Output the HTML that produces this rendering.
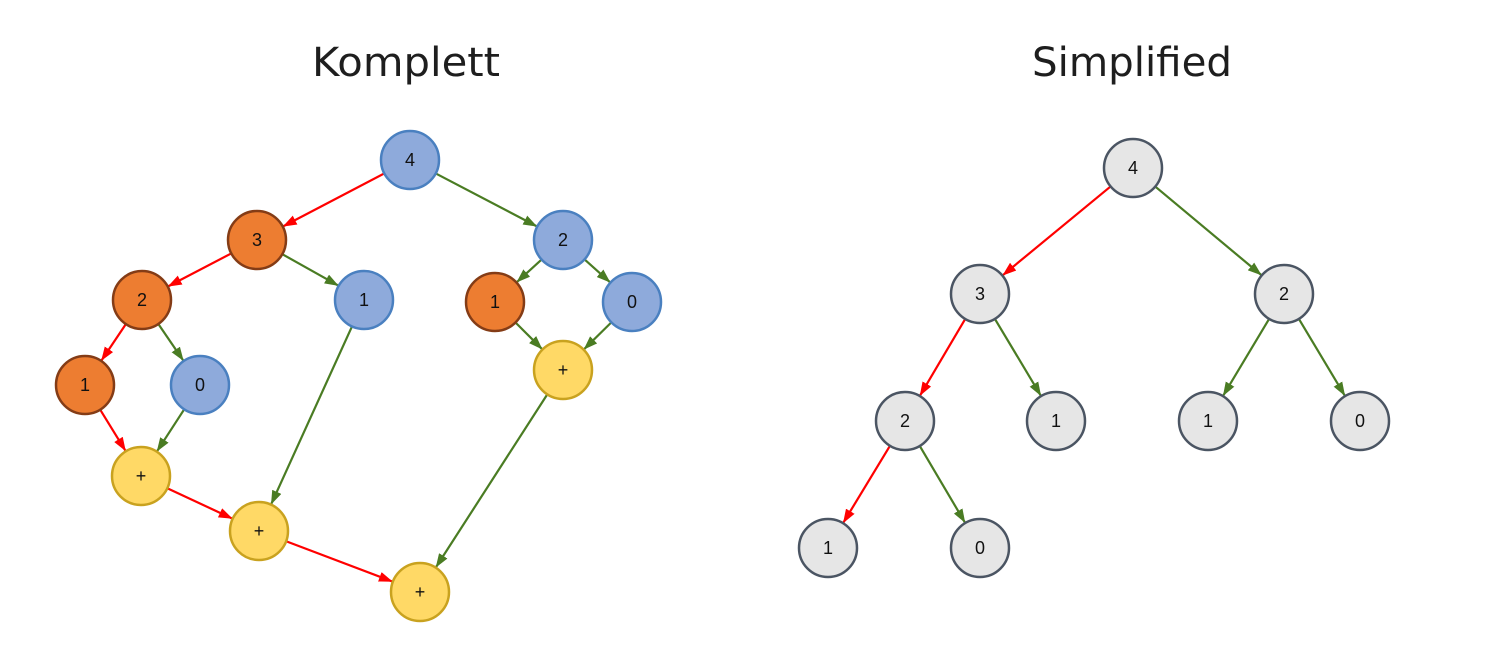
<!DOCTYPE html>
<html><head><meta charset="utf-8"><style>
html,body{margin:0;padding:0;background:#fff;}
svg{display:block}
text{font-family:"Liberation Sans","DejaVu Sans",sans-serif;}
</style></head><body>
<svg id="s" width="1492" height="649" viewBox="0 0 1492 649" xmlns="http://www.w3.org/2000/svg">
<defs>
<marker id="ar" markerWidth="14" markerHeight="10" refX="13" refY="5" orient="auto" markerUnits="userSpaceOnUse" viewBox="0 0 14 10"><path d="M0,0 L14,5 L0,10 Z" fill="#ff0000"/></marker>
<marker id="ag" markerWidth="14" markerHeight="10" refX="13" refY="5" orient="auto" markerUnits="userSpaceOnUse" viewBox="0 0 14 10"><path d="M0,0 L14,5 L0,10 Z" fill="#4a7c23"/></marker>
</defs>
<text x="406" y="76" text-anchor="middle" font-size="40" fill="#1e1e1e" style="font-family:'DejaVu Sans',sans-serif" textLength="188" lengthAdjust="spacingAndGlyphs">Komplett</text>
<text x="1132" y="76" text-anchor="middle" font-size="40" fill="#1e1e1e" style="font-family:'DejaVu Sans',sans-serif" textLength="200" lengthAdjust="spacingAndGlyphs">Simplified</text>
<g id="edges"></g>
<g id="nodes"></g>
</svg>
<script>
var R=29;
var B={f:"#8eaadb",s:"#4a80c0"},O={f:"#ed7d31",s:"#843c16"},Y={f:"#ffd966",s:"#c9a21f"},G={f:"#e6e6e6",s:"#4b5563"};
var N={
a4:[410,160,"4",B],a3:[257,240,"3",O],a2:[563,240,"2",B],
a2o:[142,300,"2",O],a1b:[364,300,"1",B],a1o:[495,302,"1",O],a0r:[632,302,"0",B],
a1l:[85,385,"1",O],a0l:[200,385,"0",B],pR:[563,370,"+",Y],p1:[141,476,"+",Y],p2:[259,531,"+",Y],p3:[420,592,"+",Y],
b4:[1133,168,"4",G],b3:[980,294,"3",G],b2:[1284,294,"2",G],b2l:[905,421,"2",G],b1:[1056,421,"1",G],
b1r:[1208,421,"1",G],b0r:[1360,421,"0",G],b1l:[828,548,"1",G],b0l:[980,548,"0",G]};
var E=[["a4","a3","r"],["a4","a2","g"],["a3","a2o","r"],["a3","a1b","g"],["a2","a1o","g"],["a2","a0r","g"],
["a2o","a1l","r"],["a2o","a0l","g"],["a1l","p1","r"],["a0l","p1","g"],["a1o","pR","g"],["a0r","pR","g"],
["p1","p2","r"],["a1b","p2","g"],["p2","p3","r"],["pR","p3","g"],
["b4","b3","r"],["b4","b2","g"],["b3","b2l","r"],["b3","b1","g"],["b2","b1r","g"],["b2","b0r","g"],["b2l","b1l","r"],["b2l","b0l","g"]];
var ns="http://www.w3.org/2000/svg",eg=document.getElementById("edges"),ng=document.getElementById("nodes");
E.forEach(function(e){var a=N[e[0]],b=N[e[1]];var dx=b[0]-a[0],dy=b[1]-a[1],l=Math.hypot(dx,dy),ux=dx/l,uy=dy/l;
var L=document.createElementNS(ns,"line");L.setAttribute("x1",a[0]+ux*R);L.setAttribute("y1",a[1]+uy*R);
L.setAttribute("x2",b[0]-ux*(R+1));L.setAttribute("y2",b[1]-uy*(R+1));
L.setAttribute("stroke",e[2]=="r"?"#ff0000":"#4a7c23");L.setAttribute("stroke-width","2.2");
L.setAttribute("marker-end",e[2]=="r"?"url(#ar)":"url(#ag)");eg.appendChild(L);});
for(var k in N){var n=N[k];var c=document.createElementNS(ns,"circle");c.setAttribute("cx",n[0]);c.setAttribute("cy",n[1]);c.setAttribute("r",R);
c.setAttribute("fill",n[3].f);c.setAttribute("stroke",n[3].s);c.setAttribute("stroke-width","2.5");ng.appendChild(c);
var t=document.createElementNS(ns,"text");t.setAttribute("x",n[0]);t.setAttribute("y",n[1]+6);t.setAttribute("text-anchor","middle");
t.setAttribute("font-size","18");t.setAttribute("fill","#111");t.textContent=n[2];ng.appendChild(t);}
</script>
</body></html>
